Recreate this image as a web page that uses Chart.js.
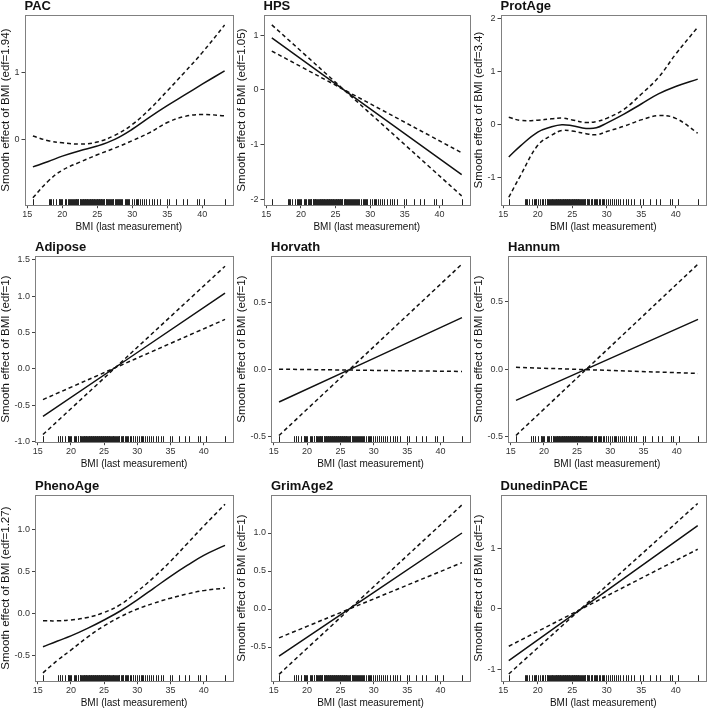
<!DOCTYPE html>
<html>
<head>
<meta charset="utf-8">
<script src="https://cdn.jsdelivr.net/npm/chart.js@4.4.1/dist/chart.umd.min.js"></script>
<style>
  body { margin: 0; background: #fff; }
  #grid { display: grid; grid-template-columns: 236px 237px 236px; grid-template-rows: 236px 237px 236px; width: 709px; height: 709px; }
  canvas { display: block; }
</style>
</head>
<body>
<div id="grid"></div>
<script>
// panel names and effective degrees of freedom
const panelTitles = ['PAC', 'HPS', 'ProtAge', 'Adipose', 'Horvath', 'Hannum', 'PhenoAge', 'GrimAge2', 'DunedinPACE'];
const edfValues = ['1.94', '1.05', '3.4', '1', '1', '1', '1.27', '1', '1'];

const xTicks = [15, 20, 25, 30, 35, 40];

// BMI rug (observed values)
const bmiRug = [15.8, 18.1, 18.3, 18.4, 18.7, 19.1, 19.5, 19.6, 19.7, 19.8, 20.0, 20.4, 20.6, 20.8, 21.0,
  21.1, 21.3, 21.4, 21.5, 21.7, 21.8, 21.9, 22.0, 22.1, 22.2, 22.3, 22.5, 22.6, 22.7, 22.8, 22.9, 23.0,
  23.1, 23.2, 23.3, 23.4, 23.5, 23.6, 23.7, 23.8, 23.9, 24.0, 24.1, 24.2, 24.3, 24.4, 24.5, 24.6, 24.7,
  24.8, 24.9, 25.0, 25.1, 25.2, 25.3, 25.4, 25.5, 25.6, 25.7, 25.8, 25.9, 26.0, 26.2, 26.3, 26.4, 26.5,
  26.7, 26.8, 26.9, 27.1, 27.2, 27.3, 27.5, 27.7, 27.8, 27.9, 28.1, 28.3, 28.4, 28.6, 28.9, 29.1, 29.3,
  29.4, 29.6, 29.9, 30.2, 30.5, 30.7, 30.8, 31.1, 31.4, 31.7, 32.0, 32.4, 32.8, 33.1, 33.5, 33.9, 34.9,
  35.2, 36.3, 37.2, 37.8, 39.2, 39.5, 40.3, 43.2];

// smooth curves (fit, upper and lower band)
const pacX = [15.8, 18, 20, 22.5, 25, 27.5, 30, 32.5, 35, 37.5, 40, 43.2];
const pacFit = [-0.41, -0.33, -0.25, -0.17, -0.10, 0.0, 0.15, 0.33, 0.50, 0.66, 0.82, 1.02];
const pacUpper = [0.05, -0.02, -0.05, -0.07, -0.04, 0.06, 0.22, 0.45, 0.72, 1.00, 1.29, 1.70];
const pacLower = [-0.87, -0.62, -0.46, -0.34, -0.23, -0.13, -0.02, 0.10, 0.25, 0.34, 0.37, 0.35];

const protX = [15.8, 17.5, 20, 22, 23.5, 25, 27, 28.5, 30, 32.5, 35, 37.5, 40, 43.2];
const protFit = [-0.61, -0.40, -0.14, -0.04, 0.0, -0.02, -0.07, -0.06, 0.03, 0.20, 0.39, 0.58, 0.72, 0.86];
const protUpper = [0.14, 0.08, 0.085, 0.11, 0.125, 0.09, 0.04, 0.06, 0.12, 0.29, 0.575, 0.89, 1.33, 1.84];
const protLower = [-1.37, -0.96, -0.39, -0.20, -0.11, -0.12, -0.17, -0.19, -0.13, -0.03, 0.09, 0.17, 0.12, -0.16];

const phenoX = [15.8, 18, 20, 22.5, 25, 27.5, 30, 32.5, 35, 37.5, 40, 43.2];
const phenoFit = [-0.40, -0.33, -0.27, -0.18, -0.08, 0.03, 0.16, 0.30, 0.44, 0.57, 0.69, 0.81];
const phenoUpper = [-0.09, -0.09, -0.08, -0.05, 0.01, 0.105, 0.26, 0.43, 0.62, 0.83, 1.04, 1.30];
const phenoLower = [-0.71, -0.56, -0.44, -0.285, -0.15, -0.04, 0.05, 0.12, 0.18, 0.23, 0.27, 0.30];

// linear fits (edf ~ 1): values at both ends of the BMI range
const linX = [15.8, 43.2];
const hpsFit = [0.95, -1.55], hpsUpper = [1.19, -1.94], hpsLower = [0.71, -1.15];
const adiposeFit = [-0.65, 1.04], adiposeUpper = [-0.90, 1.41], adiposeLower = [-0.42, 0.68];
const horvathFit = [-0.24, 0.39], horvathUpper = [-0.49, 0.79], horvathLower = [0.005, -0.012];
const hannumFit = [-0.23, 0.37], hannumUpper = [-0.49, 0.78], hannumLower = [0.015, -0.03];
const grimFit = [-0.62, 1.00], grimUpper = [-0.86, 1.37], grimLower = [-0.38, 0.61];
const dunedinFit = [-0.86, 1.38], dunedinUpper = [-1.08, 1.75], dunedinLower = [-0.62, 0.99];

// y tick values and labels per panel
const yTickValues = [[0, 1], [-2, -1, 0, 1], [-1, 0, 1, 2], [-1, -0.5, 0, 0.5, 1, 1.5], [-0.5, 0, 0.5],
  [-0.5, 0, 0.5], [-0.5, 0, 0.5, 1], [-0.5, 0, 0.5, 1], [-1, 0, 1]];
const yTickLabels = [['0', '1'], ['-2', '-1', '0', '1'], ['-1', '0', '1', '2'],
  ['-1.0', '-0.5', '0.0', '0.5', '1.0', '1.5'], ['-0.5', '0.0', '0.5'], ['-0.5', '0.0', '0.5'],
  ['-0.5', '0.0', '0.5', '1.0'], ['-0.5', '0.0', '0.5', '1.0'], ['-1', '0', '1']];
const yMins = [-0.98, -2.11, -1.52, -1.005, -0.54, -0.54, -0.81, -0.95, -1.20];
const yMaxs = [1.85, 1.37, 2.07, 1.55, 0.85, 0.84, 1.41, 1.50, 1.89];

const curves = [
  [pacX, pacFit, pacUpper, pacLower],
  [linX, hpsFit, hpsUpper, hpsLower],
  [protX, protFit, protUpper, protLower],
  [linX, adiposeFit, adiposeUpper, adiposeLower],
  [linX, horvathFit, horvathUpper, horvathLower],
  [linX, hannumFit, hannumUpper, hannumLower],
  [phenoX, phenoFit, phenoUpper, phenoLower],
  [linX, grimFit, grimUpper, grimLower],
  [linX, dunedinFit, dunedinUpper, dunedinLower]
];

// row-wise spacing, the three rows sit slightly differently
const rowPadTop = [15, 20, 22];
const rowPadBottom = [3, 3, 0];

const fontFamily = '"Liberation Sans", Arial, sans-serif';

function toPoints(xs, ys) {
  return xs.map((x, i) => ({ x: x, y: ys[i] }));
}

// draws the box, the rug and the panel title
const framePlugin = {
  id: 'frame',
  afterDatasetsDraw(chart, args, opts) {
    const ctx = chart.ctx;
    const a = chart.chartArea;
    const xs = chart.scales.x;
    ctx.save();
    ctx.strokeStyle = '#222';
    ctx.lineWidth = 1;
    ctx.beginPath();
    bmiRug.forEach(v => {
      const px = Math.round(xs.getPixelForValue(v)) + 0.5;
      ctx.moveTo(px, a.bottom);
      ctx.lineTo(px, a.bottom - 6);
    });
    ctx.stroke();
    ctx.strokeStyle = '#808080';
    ctx.lineWidth = 1;
    ctx.strokeRect(Math.round(a.left) + 0.5, Math.round(a.top) + 0.5,
      Math.round(a.right - a.left), Math.round(a.bottom - a.top));
    ctx.fillStyle = '#111';
    ctx.font = 'bold 13px ' + fontFamily;
    ctx.textBaseline = 'middle';
    ctx.textAlign = 'left';
    ctx.fillText(opts.title, a.left, a.top - 9);
    ctx.restore();
  }
};

const grid = document.getElementById('grid');

panelTitles.forEach((name, p) => {
  const canvas = document.createElement('canvas');
  const col = p % 3, row = Math.floor(p / 3);
  canvas.width = col === 1 ? 237 : 236;
  canvas.height = row === 1 ? 237 : 236;
  grid.appendChild(canvas);

  const [cx, fit, upper, lower] = curves[p];
  const tickVals = yTickValues[p];
  const tickLabs = yTickLabels[p];

  const lineStyle = { pointRadius: 0, borderColor: '#111', borderWidth: 1.5, tension: 0.4, fill: false };

  new Chart(canvas.getContext('2d'), {
    type: 'line',
    data: {
      datasets: [
        Object.assign({ label: 'fit', data: toPoints(cx, fit) }, lineStyle),
        Object.assign({ label: 'upper', data: toPoints(cx, upper), borderDash: [4, 3] }, lineStyle),
        Object.assign({ label: 'lower', data: toPoints(cx, lower), borderDash: [4, 3] }, lineStyle)
      ]
    },
    options: {
      responsive: false,
      animation: false,
      events: [],
      layout: { padding: { top: rowPadTop[row], left: 0, right: 3, bottom: rowPadBottom[row] } },
      plugins: {
        legend: { display: false },
        tooltip: { enabled: false },
        frame: { title: name }
      },
      scales: {
        x: {
          type: 'linear',
          min: 14.6,
          max: 44.4,
          afterBuildTicks: axis => { axis.ticks = xTicks.map(v => ({ value: v })); },
          grid: { drawOnChartArea: false, drawTicks: true, tickLength: 3, color: '#444' },
          border: { display: false },
          ticks: {
            autoSkip: false, maxRotation: 0, padding: 1, color: '#333',
            font: { family: fontFamily, size: 9 },
            callback: v => String(v)
          },
          title: {
            display: true, text: 'BMI (last measurement)', color: '#111',
            font: { family: fontFamily, size: 10, lineHeight: 1.1 },
            padding: { top: 1, bottom: 0 }
          }
        },
        y: {
          type: 'linear',
          min: yMins[p],
          max: yMaxs[p],
          afterBuildTicks: axis => { axis.ticks = tickVals.map(v => ({ value: v })); },
          grid: { drawOnChartArea: false, drawTicks: true, tickLength: 3, color: '#444' },
          border: { display: false },
          ticks: {
            autoSkip: false, padding: 2, color: '#333',
            font: { family: fontFamily, size: 9 },
            callback: v => {
              const i = tickVals.indexOf(v);
              return i >= 0 ? tickLabs[i] : '';
            }
          },
          title: {
            display: true, text: 'Smooth effect of BMI (edf=' + edfValues[p] + ')', color: '#111',
            font: { family: fontFamily, size: 11.5, lineHeight: 1 },
            padding: { top: 0, bottom: 1 }
          }
        }
      }
    },
    plugins: [framePlugin]
  });
});
</script>
</body>
</html>
